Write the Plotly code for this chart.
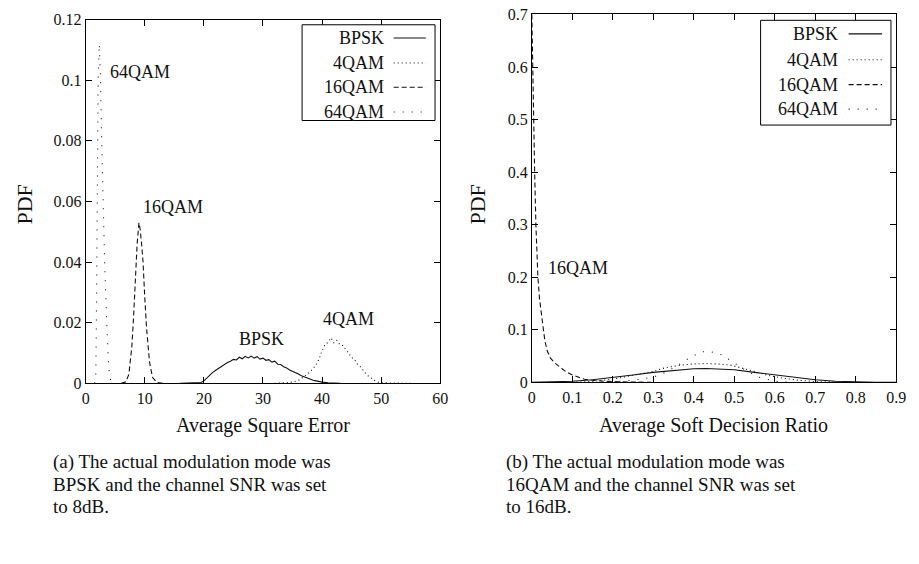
import plotly.graph_objects as go

# ---------------- data ----------------
series_names = ["BPSK", "4QAM", "16QAM", "64QAM"]

# (a) Average Square Error, SNR 8 dB
ase_bpsk_x = [16, 17, 18, 18.5, 19, 19.5, 20, 20.5, 21, 21.5, 22, 22.5, 23, 23.5, 24, 24.5,
              25, 25.5, 26, 26.5, 27, 27.5, 28, 28.5, 29, 29.5, 30, 30.5, 31, 31.5, 32, 32.5,
              33, 33.5, 34, 34.5, 35, 35.5, 36, 36.5, 37, 37.5, 38, 38.5, 39, 39.5, 40, 41, 42, 43]
ase_bpsk_y = [0, 0.0001, 0.0001, 0.0001, 0.0001, 0.0003, 0.0008, 0.0018, 0.0028, 0.0036, 0.0043,
              0.0050, 0.0057, 0.0062, 0.0069, 0.0073, 0.0079, 0.0077, 0.0086, 0.0081, 0.0089,
              0.0084, 0.0090, 0.0083, 0.0088, 0.0080, 0.0083, 0.0076, 0.0078, 0.0070, 0.0073,
              0.0063, 0.0062, 0.0055, 0.0051, 0.0044, 0.0040, 0.0034, 0.0031, 0.0025, 0.0021,
              0.0016, 0.0013, 0.0010, 0.0008, 0.0005, 0.0004, 0.0002, 0.0001, 0]

ase_4qam_x = [32, 33, 34, 35, 35.5, 36, 36.5, 37, 37.5, 38, 38.5, 39, 39.5, 40, 40.5, 41, 41.5,
              42, 42.5, 43, 43.5, 44, 44.5, 45, 45.5, 46, 46.5, 47, 47.5, 48, 48.5, 49, 49.5,
              50, 52, 55]
ase_4qam_y = [0, 0.0001, 0.0002, 0.0004, 0.0007, 0.0010, 0.0016, 0.0023, 0.0029, 0.0038, 0.0050,
              0.0061, 0.0080, 0.0108, 0.0128, 0.0135, 0.0150, 0.0134, 0.0142, 0.0128, 0.0125,
              0.0112, 0.0101, 0.0086, 0.0078, 0.0063, 0.0054, 0.0040, 0.0030, 0.0021, 0.0014,
              0.0008, 0.0004, 0.0002, 0.0001, 0]

ase_16qam_x = [6, 6.8, 7.3, 7.8, 8.1, 8.4, 8.7, 9.0, 9.2, 9.5, 9.7, 10.0, 10.3, 10.8, 11.3, 12, 13]
ase_16qam_y = [0, 0.0005, 0.003, 0.012, 0.022, 0.035, 0.046, 0.053, 0.051, 0.045, 0.040, 0.028,
               0.018, 0.007, 0.002, 0.0003, 0]

ase_64qam_x = [1.5, 1.7, 1.8, 1.9, 2.0, 2.1, 2.3, 2.5, 2.7, 2.9, 3.2, 3.55, 3.9, 4.2, 5]
ase_64qam_y = [0, 0.002, 0.02, 0.045, 0.08, 0.10, 0.112, 0.10, 0.08, 0.06, 0.04, 0.02, 0.005,
               0.001, 0]

# (b) Average Soft Decision Ratio, SNR 16 dB
sdr_bpsk_x = [0, 0.05, 0.1, 0.15, 0.2, 0.25, 0.3, 0.35, 0.4, 0.43, 0.46, 0.5, 0.55, 0.6, 0.65,
              0.7, 0.75, 0.8, 0.85, 0.9]
sdr_bpsk_y = [0, 0.0005, 0.002, 0.005, 0.009, 0.014, 0.019, 0.023, 0.026, 0.0265, 0.026, 0.024,
              0.019, 0.014, 0.009, 0.005, 0.0022, 0.0006, 0.0001, 0]

sdr_4qam_x = [0.1, 0.15, 0.2, 0.25, 0.3, 0.33, 0.37, 0.4, 0.43, 0.46, 0.49, 0.52, 0.55, 0.58,
              0.62, 0.66, 0.7, 0.75, 0.8]
sdr_4qam_y = [0, 0.002, 0.006, 0.013, 0.021, 0.028, 0.033, 0.035, 0.036, 0.035, 0.033, 0.027,
              0.020, 0.014, 0.008, 0.004, 0.0015, 0.0003, 0]

sdr_16qam_x = [0, 0.002, 0.004, 0.007, 0.010, 0.0125, 0.015, 0.019, 0.026, 0.032, 0.038,
               0.046, 0.058, 0.07, 0.083, 0.1, 0.115, 0.13, 0.15, 0.18, 0.22, 0.3]
sdr_16qam_y = [0.70, 0.60, 0.50, 0.40, 0.30, 0.25, 0.20, 0.159, 0.11, 0.08, 0.06, 0.046,
               0.036, 0.028, 0.021, 0.014, 0.010, 0.006, 0.004, 0.002, 0.001, 0]

sdr_64qam_x = [0.15, 0.2, 0.25, 0.3, 0.33, 0.36, 0.39, 0.42, 0.44, 0.47, 0.5, 0.53, 0.56, 0.6, 0.65]
sdr_64qam_y = [0, 0.001, 0.004, 0.010, 0.019, 0.032, 0.047, 0.058, 0.059, 0.052, 0.037, 0.022,
               0.010, 0.002, 0]

x_ticks_a = [0, 10, 20, 30, 40, 50, 60]
y_ticks_a = [0, 0.02, 0.04, 0.06, 0.08, 0.1, 0.12]
x_ticks_b = [0, 0.1, 0.2, 0.3, 0.4, 0.5, 0.6, 0.7, 0.8, 0.9]
y_ticks_b = [0, 0.1, 0.2, 0.3, 0.4, 0.5, 0.6, 0.7]

caption_a = ["(a) The actual modulation mode was", "BPSK and the channel SNR was set", "to 8dB."]
caption_b = ["(b) The actual modulation mode was", "16QAM and the channel SNR was set", "to 16dB."]

# ---------------- styling ----------------
W, H = 919, 564
SERIF = "Liberation Serif, Times New Roman, serif"
INK = "#111111"
dash_style = {"BPSK": "solid", "4QAM": "1px,3px", "16QAM": "5px,3px", "64QAM": "1px,8px"}


def px(x):
    return x / W


def py(y):
    return 1 - y / H


fig = go.Figure()

panel_a = [(ase_bpsk_x, ase_bpsk_y), (ase_4qam_x, ase_4qam_y),
           (ase_16qam_x, ase_16qam_y), (ase_64qam_x, ase_64qam_y)]
panel_b = [(sdr_bpsk_x, sdr_bpsk_y), (sdr_4qam_x, sdr_4qam_y),
           (sdr_16qam_x, sdr_16qam_y), (sdr_64qam_x, sdr_64qam_y)]

for name, (xs, ys) in zip(series_names, panel_a):
    fig.add_trace(go.Scatter(x=xs, y=ys, mode="lines", name=name, showlegend=False,
                             line=dict(color=INK, width=1.1, dash=dash_style[name]),
                             xaxis="x", yaxis="y"))
for name, (xs, ys) in zip(series_names, panel_b):
    fig.add_trace(go.Scatter(x=xs, y=ys, mode="lines", name=name, showlegend=False,
                             line=dict(color=INK, width=1.1, dash=dash_style[name]),
                             xaxis="x2", yaxis="y2"))

axis_common = dict(showline=True, linecolor="black", linewidth=1, mirror="ticks",
                   ticks="inside", ticklen=6, tickcolor="black", showgrid=False,
                   zeroline=False, tickfont=dict(family=SERIF, size=16, color=INK))

fig.update_layout(
    width=W, height=H, margin=dict(l=0, r=0, t=0, b=0),
    paper_bgcolor="white", plot_bgcolor="white", showlegend=False,
    xaxis=dict(domain=[px(83), px(443)], range=[0, 60], tickvals=x_ticks_a,
               anchor="y", **axis_common),
    yaxis=dict(domain=[py(387), py(12)], range=[0, 0.12], tickvals=y_ticks_a,
               anchor="x", **axis_common),
    xaxis2=dict(domain=[px(536), px(906)], range=[0, 0.9], tickvals=x_ticks_b,
                anchor="y2", **axis_common),
    yaxis2=dict(domain=[py(386), py(6)], range=[0, 0.7015], tickvals=y_ticks_b,
                anchor="x2", **axis_common),
)

ann = []
lab_font = dict(family=SERIF, size=18, color=INK)
# curve labels
ann += [
    dict(x=3.7, y=0.1026, xref="x", yref="y", text="64QAM", xanchor="left", yanchor="middle"),
    dict(x=9.3, y=0.0581, xref="x", yref="y", text="16QAM", xanchor="left", yanchor="middle"),
    dict(x=29.7, y=0.0147, xref="x", yref="y", text="BPSK", xanchor="center", yanchor="middle"),
    dict(x=44.4, y=0.0213, xref="x", yref="y", text="4QAM", xanchor="center", yanchor="middle"),
    dict(x=0.036, y=0.217, xref="x2", yref="y2", text="16QAM", xanchor="left", yanchor="middle"),
]
for a in ann:
    a.update(showarrow=False, font=lab_font)

# axis titles
title_font = dict(family=SERIF, size=20, color=INK)
ann += [
    dict(x=px(263), y=py(430), xref="paper", yref="paper", text="Average Square Error",
         showarrow=False, font=title_font, xanchor="center", yanchor="middle"),
    dict(x=px(720), y=py(430), xref="paper", yref="paper", text="Average Soft Decision Ratio",
         showarrow=False, font=title_font, xanchor="center", yanchor="middle"),
    dict(x=px(21), y=py(203), xref="paper", yref="paper", text="PDF", textangle=-90,
         showarrow=False, font=dict(family=SERIF, size=22, color=INK),
         xanchor="center", yanchor="middle"),
    dict(x=px(481), y=py(203), xref="paper", yref="paper", text="PDF", textangle=-90,
         showarrow=False, font=dict(family=SERIF, size=22, color=INK),
         xanchor="center", yanchor="middle"),
]

# captions
cap_font = dict(family=SERIF, size=19, color=INK)
for i, line in enumerate(caption_a):
    ann.append(dict(x=px(48), y=py(468 + 23 * i), xref="paper", yref="paper", text=line,
                    showarrow=False, font=cap_font, xanchor="left", yanchor="middle"))
for i, line in enumerate(caption_b):
    ann.append(dict(x=px(508), y=py(468 + 23 * i), xref="paper", yref="paper", text=line,
                    showarrow=False, font=cap_font, xanchor="left", yanchor="middle"))

# manual gnuplot-style legends (text right-aligned, sample on the right)
shapes = []
legend_specs = [
    # box x0, x1, y0, y1, text right edge, sample x0, x1, row ys
    (302.7, 437.7, 17.3, 116, 387.7, 395.7, 428.3, [31, 56.7, 81.7, 107.3]),
    (768.3, 900.7, 12.7, 120.7, 849.3, 857.7, 891.7, [26.7, 53.3, 79, 104.3]),
]
for bx0, bx1, by0, by1, tx, sx0, sx1, rows in legend_specs:
    shapes.append(dict(type="rect", xref="paper", yref="paper", x0=px(bx0), x1=px(bx1),
                       y0=py(by1), y1=py(by0), line=dict(color="black", width=1),
                       fillcolor="white", layer="above"))
    for name, ry in zip(series_names, rows):
        ann.append(dict(x=px(tx), y=py(ry), xref="paper", yref="paper", text=name,
                        showarrow=False, font=lab_font, xanchor="right", yanchor="middle"))
        shapes.append(dict(type="line", xref="paper", yref="paper", x0=px(sx0), x1=px(sx1),
                           y0=py(ry), y1=py(ry),
                           line=dict(color=INK, width=1.1, dash=dash_style[name])))

fig.update_layout(annotations=ann, shapes=shapes)
fig.write_html("out.html")
